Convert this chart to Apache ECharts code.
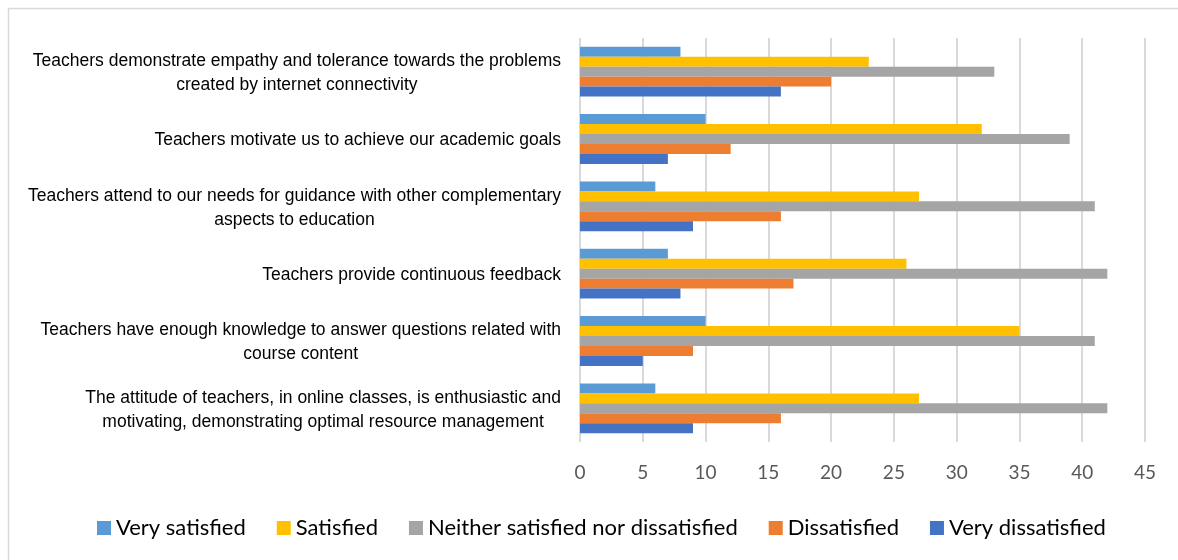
<!DOCTYPE html>
<html><head><meta charset="utf-8">
<script src="https://cdn.jsdelivr.net/npm/echarts@6/dist/echarts.min.js"></script>
<style>html,body{margin:0;padding:0;background:#fff}#c{width:1178px;height:560px}</style>
</head><body><div id="c"></div>
<script>
// Categories listed top to bottom as they appear in the chart
const categories = [
  'Teachers demonstrate empathy and tolerance towards the problems\ncreated by internet connectivity',
  'Teachers motivate us to achieve our academic goals',
  'Teachers attend to our needs for guidance with other complementary\naspects to education',
  'Teachers provide continuous feedback',
  'Teachers have enough knowledge to answer questions related with\ncourse content',
  'The attitude of teachers, in online classes, is enthusiastic and\nmotivating, demonstrating optimal resource management'
];
const seriesNames = ['Very satisfied', 'Satisfied', 'Neither satisfied nor dissatisfied', 'Dissatisfied', 'Very dissatisfied'];
const verySatisfied    = [8, 10, 6, 7, 10, 6];
const satisfied        = [23, 32, 27, 26, 35, 27];
const neither          = [33, 39, 41, 42, 41, 42];
const dissatisfied     = [20, 12, 16, 17, 9, 16];
const veryDissatisfied = [16, 7, 9, 8, 5, 9];
const xMin = 0, xMax = 45, xStep = 5;

const colors = ['#5B9BD5', '#FFC000', '#A5A5A5', '#ED7D31', '#4472C4'];
const values = [verySatisfied, satisfied, neither, dissatisfied, veryDissatisfied];

const chart = echarts.init(document.getElementById('c'), null, {renderer: 'canvas'});
chart.setOption({
  animation: false,
  backgroundColor: '#fff',
  graphic: [{
    type: 'rect', silent: true,
    shape: {x: 8.5, y: 8.5, width: 1300, height: 700},
    style: {fill: 'none', stroke: '#d9d9d9', lineWidth: 1.5}
  }],
  grid: {left: 580, right: 33, top: 38, bottom: 118, containLabel: false, outerBoundsMode: 'none'},
  legend: {
    data: seriesNames,
    left: 97, top: 517, padding: 0,
    itemWidth: 14, itemHeight: 14, itemGap: 31,
    icon: 'rect',
    textStyle: {fontFamily: 'Lato', fontSize: 22, lineHeight: 22, color: '#000'}
  },
  xAxis: {
    type: 'value', min: xMin, max: xMax, interval: xStep,
    axisLine: {show: false}, axisTick: {show: false},
    axisLabel: {fontFamily: 'Lato', fontSize: 19, color: '#595959', margin: 21},
    splitLine: {lineStyle: {color: '#d9d9d9', width: 2}}
  },
  yAxis: {
    type: 'category', data: categories, inverse: true,
    axisLine: {show: false}, axisTick: {show: false},
    axisLabel: {
      margin: 19,
      align: 'right',
      formatter: function (v) { return v.split('\n').map(function (s) { return '{c|' + s + '}'; }).join('\n'); },
      rich: {c: {align: 'center', fontFamily: 'Liberation Sans', fontSize: 17.5, color: '#000', lineHeight: 24, padding: [3, 0, 0, 0]}}
    }
  },
  series: seriesNames.map(function (n, i) {
    return {
      name: n, type: 'bar', data: values[i],
      barGap: '0%', barCategoryGap: '26%',
      itemStyle: {color: colors[i]}
    };
  })
});
</script></body></html>
